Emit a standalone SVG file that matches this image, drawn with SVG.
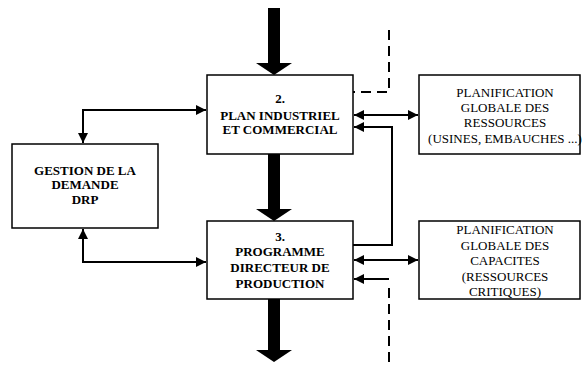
<svg xmlns="http://www.w3.org/2000/svg" width="582" height="365" viewBox="0 0 582 365">
<defs>
<marker id="ah" viewBox="0 0 10 10" refX="10" refY="5" markerWidth="5" markerHeight="5" orient="auto-start-reverse" markerUnits="strokeWidth">
<path d="M0,0 L10,5 L0,10 Z" fill="#000"/>
</marker>
<style>
.box{fill:#fff;stroke:#000;stroke-width:1.5}
.b{font-family:"Liberation Serif","Times New Roman",serif;font-weight:bold;font-size:13px;text-anchor:middle;fill:#000}
.r{font-family:"Liberation Serif","Times New Roman",serif;font-size:13px;text-anchor:middle;fill:#000}
.c{fill:none;stroke:#000;stroke-width:2}
.d{fill:none;stroke:#000;stroke-width:2;stroke-dasharray:10,6}
.thick{fill:#000}
</style>
</defs>
<rect width="582" height="365" fill="#fff"/>
<g id="connectors">
<path class="thick" d="M268,8 H280 V63 H292 L274,75 L256,63 H268 Z"/>
<path class="thick" d="M268,154 H280 V209 H292 L274,221 L256,209 H268 Z"/>
<path class="thick" d="M268,299 H280 V350 H292 L274,362 L256,350 H268 Z"/>
<path class="d" d="M389,30 V92 H353"/>
<path class="d" d="M389,288 V365"/>
<path class="c" d="M354,115 H418" marker-start="url(#ah)" marker-end="url(#ah)"/>
<path class="c" d="M353,245 H392 V127 H354" marker-end="url(#ah)"/>
<path class="c" d="M354,260 H418" marker-start="url(#ah)" marker-end="url(#ah)"/>
<path class="c" d="M389,279 H354" marker-end="url(#ah)"/>
<path class="c" d="M83,143 V110 H206" marker-start="url(#ah)" marker-end="url(#ah)"/>
<path class="c" d="M83,229 V262 H206" marker-start="url(#ah)" marker-end="url(#ah)"/>
</g>
<g id="node-pic">
<rect class="box" x="207" y="75" width="146" height="79"/>
<text class="b" x="280" y="102.5">2.</text>
<text class="b" x="280" y="119.5">PLAN INDUSTRIEL</text>
<text class="b" x="280" y="133.5">ET COMMERCIAL</text>
</g>
<g id="node-pdp">
<rect class="box" x="207" y="221" width="146" height="78"/>
<text class="b" x="280" y="241">3.</text>
<text class="b" x="280" y="255.5">PROGRAMME</text>
<text class="b" x="280" y="271.5">DIRECTEUR DE</text>
<text class="b" x="280" y="287.5">PRODUCTION</text>
</g>
<g id="node-gestion">
<rect class="box" x="12" y="144" width="146" height="84"/>
<text class="b" x="85" y="174.5">GESTION DE LA</text>
<text class="b" x="85" y="189">DEMANDE</text>
<text class="b" x="85" y="203.5">DRP</text>
</g>
<g id="node-ressources">
<rect class="box" x="419" y="75" width="161" height="79"/>
<text class="r" x="505" y="96.5">PLANIFICATION</text>
<text class="r" x="505" y="111.5">GLOBALE DES</text>
<text class="r" x="505" y="126.5">RESSOURCES</text>
<text class="r" x="505" y="142.5">(USINES, EMBAUCHES ...)</text>
</g>
<g id="node-capacites">
<rect class="box" x="419" y="221" width="161" height="78"/>
<text class="r" x="505" y="233.5">PLANIFICATION</text>
<text class="r" x="505" y="249.5">GLOBALE DES</text>
<text class="r" x="505" y="264.5">CAPACITES</text>
<text class="r" x="505" y="280.5">(RESSOURCES</text>
<text class="r" x="505" y="295.5">CRITIQUES)</text>
</g>
</svg>
